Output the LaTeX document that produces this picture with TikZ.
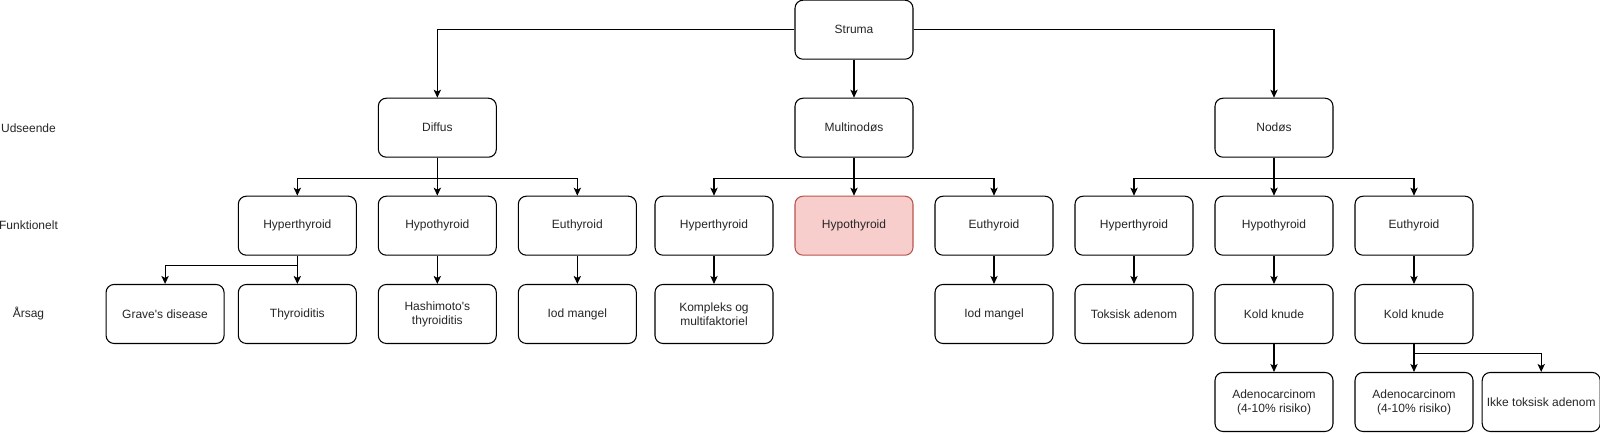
\documentclass[tikz,border=0pt]{standalone}
\usepackage{fontspec}
\setmainfont{Liberation Sans}
\usetikzlibrary{arrows.meta}
\usetikzlibrary{positioning}
\definecolor{pinkfill}{HTML}{F8CECC}
\definecolor{pinkline}{HTML}{B85450}
\tikzset{box/.style={draw, line width=0.8pt, rounded corners=6pt, fill=white, minimum width=88.5pt, minimum height=44.25pt, inner sep=2pt, align=center, text=black!85, font=\fontsize{9}{10.5}\selectfont}}
\tikzset{pinkbox/.style={box, draw=pinkline, fill=pinkfill}}
\tikzset{rowname/.style={inner sep=0pt, text=black!85, font=\fontsize{9}{10.5}\selectfont}}
\tikzset{link/.style={draw, line width=0.8pt, -{Stealth[length=6pt, width=5.5pt, inset=1.5pt]}}}

\begin{document}
\begin{tikzpicture}[x=0.75pt, y=-0.75pt, node distance=105pt]
\useasboundingbox (0,0) rectangle (1600,433);
\node [box] (struma) at (854,29.7) {Struma};
\node [box] (multi) [node distance=73.5pt, below of=struma] {Multinodøs};
\node [box] (diffus) [node distance=312.5pt, left of=multi] {Diffus};
\node [box] (nodos) [node distance=315pt, right of=multi] {Nodøs};
% Funktionelt
\node [box] (hypoD) [node distance=73.5pt, below of=diffus] {Hypothyroid};
\node [box] (hyperD) [left of=hypoD] {Hyperthyroid};
\node [box] (euD) [right of=hypoD] {Euthyroid};
\node [pinkbox] (hypoM) [node distance=73.5pt, below of=multi] {Hypothyroid};
\node [box] (hyperM) [left of=hypoM] {Hyperthyroid};
\node [box] (euM) [right of=hypoM] {Euthyroid};
\node [box] (hypoN) [node distance=73.5pt, below of=nodos] {Hypothyroid};
\node [box] (hyperN) [left of=hypoN] {Hyperthyroid};
\node [box] (euN) [right of=hypoN] {Euthyroid};
% Aarsag
\node [box] (thyro) [node distance=66.2pt, below of=hyperD] {Thyroiditis};
\node [box] (graves) [node distance=99.2pt, left of=thyro] {Grave\textquotesingle s disease};
\node [box] (hashi) [node distance=66.2pt, below of=hypoD] {Hashimoto\textquotesingle s\\thyroiditis};
\node [box] (iodD) [node distance=66.2pt, below of=euD] {Iod mangel};
\node [box] (kompleks) [node distance=66.2pt, below of=hyperM] {Kompleks og\\multifaktoriel};
\node [box] (iodM) [node distance=66.2pt, below of=euM] {Iod mangel};
\node [box] (toksisk) [node distance=66.2pt, below of=hyperN] {Toksisk adenom};
\node [box] (koldN) [node distance=66.2pt, below of=hypoN] {Kold knude};
\node [box] (koldE) [node distance=66.2pt, below of=euN] {Kold knude};
\node [box] (adenoN) [node distance=66pt, below of=koldN] {Adenocarcinom\\(4-10\% risiko)};
\node [box] (adenoE) [node distance=66pt, below of=koldE] {Adenocarcinom\\(4-10\% risiko)};
\node [box] (ikke) [node distance=95.4pt, right of=adenoE] {Ikke toksisk adenom};
% row names
\node [rowname] (udseende) at (28.5,127.8) {Udseende};
\node [rowname] (funktionelt) at (28.5,225.5) {Funktionelt};
\node [rowname] (aarsag) at (28.5,313.8) {Årsag};
%Edges
\path [link] (struma) -- (multi);
\path [link] (struma.west) -| (diffus.north);
\path [link] (struma.east) -| (nodos.north);
\path [link] (diffus.south) -- ++(0,21) -| (hyperD.north);
\path [link] (diffus) -- (hypoD);
\path [link] (diffus.south) -- ++(0,21) -| (euD.north);
\path [link] (multi.south) -- ++(0,21) -| (hyperM.north);
\path [link] (multi) -- (hypoM);
\path [link] (multi.south) -- ++(0,21) -| (euM.north);
\path [link] (nodos.south) -- ++(0,21) -| (hyperN.north);
\path [link] (nodos) -- (hypoN);
\path [link] (nodos.south) -- ++(0,21) -| (euN.north);
\path [link] (hyperD.south) -- ++(0,9.5) -| (graves.north);
\path [link] (hyperD) -- (thyro);
\path [link] (hypoD) -- (hashi);
\path [link] (euD) -- (iodD);
\path [link] (hyperM) -- (kompleks);
\path [link] (euM) -- (iodM);
\path [link] (hyperN) -- (toksisk);
\path [link] (hypoN) -- (koldN);
\path [link] (euN) -- (koldE);
\path [link] (koldN) -- (adenoN);
\path [link] (koldE) -- (adenoE);
\path [link] (koldE.south) -- ++(0,9.5) -| (ikke.north);
\end{tikzpicture}
\end{document}
